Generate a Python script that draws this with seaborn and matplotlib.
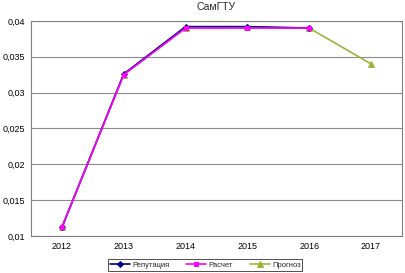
import numpy as np
import pandas as pd
import matplotlib
matplotlib.use("Agg")
import matplotlib.pyplot as plt
import seaborn as sns

# data
years = ["2012", "2013", "2014", "2015", "2016", "2017"]
reputation = [0.0112, 0.0326, 0.0392, 0.0392, 0.0390, np.nan]
calc = [0.0112, 0.0325, 0.0390, 0.0390, 0.0390, np.nan]
forecast = [0.0112, 0.0325, 0.0390, 0.0391, 0.0390, 0.0340]
yticks = [0.01, 0.015, 0.02, 0.025, 0.03, 0.035, 0.04]

sns.set_theme(style="white")
plt.rcParams["font.family"] = ["Liberation Sans", "DejaVu Sans"]

fig = plt.figure(figsize=(4.05, 2.73), dpi=100)
ax = fig.add_axes([0.0765, 0.1355, 0.916, 0.788])

pos = np.arange(len(years))
df = pd.DataFrame({"x": pos, "Репутация": reputation, "Расчет": calc, "Прогноз": forecast})

sns.lineplot(data=df, x="x", y="Прогноз", ax=ax, color="#9AB43C", marker="^",
             markersize=4.5, markeredgecolor="#9AB43C", linewidth=1.2, label="Прогноз")
sns.lineplot(data=df, x="x", y="Репутация", ax=ax, color="#000080", marker="D",
             markersize=3, markeredgecolor="#000080", linewidth=1.2, label="Репутация")
sns.lineplot(data=df, x="x", y="Расчет", ax=ax, color="#FF00FF", marker="s",
             markersize=3, markeredgecolor="#FF00FF", linewidth=1.2, label="Расчет")

ax.set_xlim(-0.5, len(years) - 0.5)
ax.set_ylim(0.01, 0.04)
ax.set_xticks(pos)
ax.set_xticklabels(years)
ax.set_yticks(yticks)
ax.set_yticklabels([("%g" % v).replace(".", ",") for v in yticks])
ax.tick_params(axis="both", labelsize=6.5, length=0, pad=4, colors="black")
ax.set_xlabel("")
ax.set_ylabel("")
ax.grid(axis="y", color="#8c8c8c", linewidth=0.8)
for s in ax.spines.values():
    s.set_color("#808080")
    s.set_linewidth(0.8)

ax.set_title("СамГТУ", fontsize=7.5, pad=8)

handles, labels = ax.get_legend_handles_labels()
order = [1, 2, 0]
leg = ax.legend([handles[i] for i in order], [labels[i] for i in order],
                loc="center", bbox_to_anchor=(0.47, -0.135), ncol=3, fontsize=5.5,
                frameon=True, fancybox=False, edgecolor="black", handlelength=2.6,
                handletextpad=0.3, columnspacing=2.2, borderpad=0.25)
leg.get_frame().set_linewidth(0.6)

fig.savefig("out.png", dpi=100)
